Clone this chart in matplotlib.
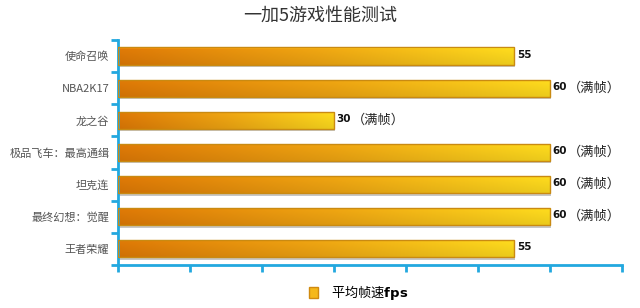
import matplotlib
matplotlib.use("Agg")
import matplotlib.pyplot as plt
import numpy as np
from matplotlib.colors import LinearSegmentedColormap
from matplotlib.patches import Rectangle, Patch

plt.rcParams['font.family'] = ['Noto Sans CJK SC', 'DejaVu Sans']

# ── data ──────────────────────────────────────────
games = ['使命召唤', 'NBA2K17', '龙之谷', '极品飞车：最高通缉', '坦克连', '最终幻想：觉醒', '王者荣耀']
fps = [55, 60, 30, 60, 60, 60, 55]
notes = ['', '（满帧）', '（满帧）', '（满帧）', '（满帧）', '（满帧）', '']
x_ticks = [0, 10, 20, 30, 40, 50, 60, 70]

axis_color = '#22A8DF'
bar_cmap = LinearSegmentedColormap.from_list('bar', ['#E07A06', '#F0A612', '#FFDC1E'])

fig = plt.figure(figsize=(6.4, 3.08), dpi=100)
ax = fig.add_axes([0.184, 0.140, 0.788, 0.730])

h = 0.54
grad = np.linspace(0, 1, 256)
rgb = bar_cmap(grad)[:, :3]
# vertical shading: light line on top, darker toward bottom
shade = np.concatenate([np.full(3, 1.12), np.linspace(1.0, 0.92, 29)])
img = np.clip(shade[:, None, None] * rgb[None, :, :], 0, 1)

for i, (v, note) in enumerate(zip(fps, notes)):
    # shadow
    ax.add_patch(Rectangle((0.15, i - h / 2 + 0.07), v, h, facecolor='#9a9a9a',
                           edgecolor='none', alpha=0.55, zorder=1))
    rect = Rectangle((0, i - h / 2), v, h, facecolor='none',
                     edgecolor='#C98A12', lw=1.0, zorder=3)
    ax.add_patch(rect)
    im = ax.imshow(img, extent=[0, v, i + h / 2, i - h / 2], aspect='auto',
                   interpolation='bilinear', zorder=2)
    im.set_clip_path(rect)
    ax.annotate(str(v), (v, i), xytext=(2, 1), textcoords='offset points',
                ha='left', va='center', fontsize=7.5, fontweight='bold',
                family='DejaVu Sans', color='#111111')
    if note:
        ax.annotate(note, (v, i), xytext=(13, 0), textcoords='offset points',
                    ha='left', va='center', fontsize=9.5, color='#222222')

ax.set_xlim(0, 70)
ax.set_ylim(len(games) - 0.5, -0.5)
ax.set_xticks(x_ticks)
ax.set_xticklabels([])
ax.set_yticks(np.arange(len(games) + 1) - 0.5)
ax.set_yticklabels([])
ax.set_yticks(np.arange(len(games)), minor=True)
ax.set_yticklabels(games, minor=True, fontsize=8, color='#555555')
ax.tick_params(axis='y', which='minor', length=0, pad=6)
ax.tick_params(axis='both', which='major', length=5, width=2, color=axis_color)

for s in ['top', 'right']:
    ax.spines[s].set_visible(False)
for s in ['left', 'bottom']:
    ax.spines[s].set_color(axis_color)
    ax.spines[s].set_linewidth(2)

fig.text(0.5, 0.948, '一加5游戏性能测试', ha='center', va='center',
         fontsize=13, color='#333333')

handle = Patch(facecolor='#F5B81A', edgecolor='#D08A10')
fig.legend([handle], ['平均帧速' + r'$\mathbf{fps}$'], loc='center',
           bbox_to_anchor=(0.56, 0.05), frameon=False, fontsize=9.5,
           handlelength=0.7, handleheight=0.9, handletextpad=1.0)

fig.savefig('out.png', dpi=100)
